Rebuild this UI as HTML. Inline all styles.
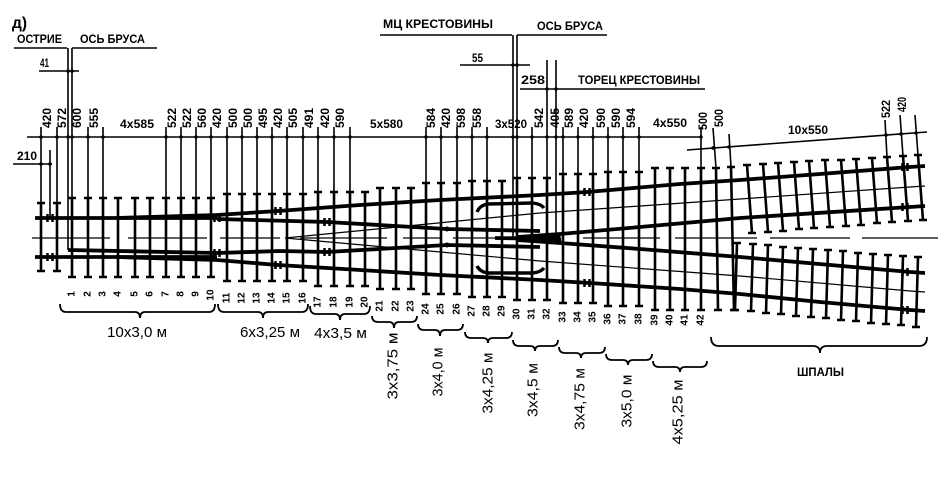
<!DOCTYPE html>
<html><head><meta charset="utf-8"><style>
html,body{margin:0;padding:0;background:#fff;}
svg{display:block;}
text{font-family:"Liberation Sans","DejaVu Sans",sans-serif;fill:#000;}
.b{font-weight:bold;}
.d{font-weight:bold;font-size:11.5px;}
.n{font-weight:bold;font-size:10px;}
.r{font-size:15px;}
</style></head><body>
<svg width="951" height="491" viewBox="0 0 951 491" xmlns="http://www.w3.org/2000/svg">
<rect width="951" height="491" fill="#fff"/>

<!-- top annotations -->
<text x="12" y="28" class="b" font-size="16" textLength="15" lengthAdjust="spacingAndGlyphs">д)</text>
<text x="17" y="43" class="d" textLength="45" lengthAdjust="spacingAndGlyphs">ОСТРИЕ</text>
<text x="80" y="43" class="d" textLength="65" lengthAdjust="spacingAndGlyphs">ОСЬ БРУСА</text>
<text x="40" y="67" class="d" textLength="9" lengthAdjust="spacingAndGlyphs">41</text>
<text x="17" y="160" class="d" textLength="20" lengthAdjust="spacingAndGlyphs">210</text>
<text x="383" y="28" class="d" textLength="110" lengthAdjust="spacingAndGlyphs">МЦ КРЕСТОВИНЫ</text>
<text x="537" y="30" class="d" textLength="66" lengthAdjust="spacingAndGlyphs">ОСЬ  БРУСА</text>
<text x="472" y="62" class="d" textLength="11" lengthAdjust="spacingAndGlyphs">55</text>
<text x="521" y="84" class="d" textLength="24" lengthAdjust="spacingAndGlyphs">258</text>
<text x="578" y="84" class="d" textLength="122" lengthAdjust="spacingAndGlyphs">ТОРЕЦ  КРЕСТОВИНЫ</text>

<g stroke="#000" stroke-width="1.6" fill="none">
<path d="M14 48H67M72 48H157M39 71H79M380 35H512M517 35H607M460 65H530M520 89H705M13 164H52M50 150V218"/>
<path d="M27 137H700M687 150L927 132"/>
<!-- extension lines -->
<path d="M41 127V203M57 127V203M88 127V198M103 127V198M166 127V198M181 127V198M196 127V198M211 127V198M227 127V194M242 127V194M257 127V194M272 127V194M287 127V194M303 127V194M318 127V192M334 127V192M350 127V192M426 127V183M441 127V183M457 127V183M472 127V181M487 127V181M532 127V178M563 127V174M578 127V174M593 127V174M608 127V172M623 127V172M639 127V172M701 127V168"/>
<path d="M68 48V250M72 48V198M513 35V237M517 35V178M547 60V178M556 60V240"/>
<path d="M713 128L716 168M729 134L731 167M885 120L887 157M900 115L903 156M915 115L918 155"/>
</g>

<!-- dimension dots -->
<g fill="#000">
<circle cx="41" cy="137" r="1.8"/><circle cx="57" cy="137" r="1.8"/><circle cx="68" cy="137" r="1.8"/><circle cx="72" cy="137" r="1.8"/><circle cx="88" cy="137" r="1.8"/><circle cx="103" cy="137" r="1.8"/><circle cx="166" cy="137" r="1.8"/><circle cx="181" cy="137" r="1.8"/><circle cx="196" cy="137" r="1.8"/><circle cx="211" cy="137" r="1.8"/><circle cx="227" cy="137" r="1.8"/><circle cx="242" cy="137" r="1.8"/><circle cx="257" cy="137" r="1.8"/><circle cx="272" cy="137" r="1.8"/><circle cx="287" cy="137" r="1.8"/><circle cx="303" cy="137" r="1.8"/><circle cx="318" cy="137" r="1.8"/><circle cx="334" cy="137" r="1.8"/><circle cx="350" cy="137" r="1.8"/><circle cx="426" cy="137" r="1.8"/><circle cx="441" cy="137" r="1.8"/><circle cx="457" cy="137" r="1.8"/><circle cx="472" cy="137" r="1.8"/><circle cx="487" cy="137" r="1.8"/><circle cx="513" cy="137" r="1.8"/><circle cx="517" cy="137" r="1.8"/><circle cx="532" cy="137" r="1.8"/><circle cx="547" cy="137" r="1.8"/><circle cx="556" cy="137" r="1.8"/><circle cx="563" cy="137" r="1.8"/><circle cx="578" cy="137" r="1.8"/><circle cx="593" cy="137" r="1.8"/><circle cx="608" cy="137" r="1.8"/><circle cx="623" cy="137" r="1.8"/><circle cx="639" cy="137" r="1.8"/><circle cx="701" cy="137" r="1.8"/>
<circle cx="713" cy="148" r="1.8"/><circle cx="729" cy="147" r="1.8"/><circle cx="886" cy="135" r="1.8"/><circle cx="901" cy="134" r="1.8"/><circle cx="916" cy="133" r="1.8"/>
<circle cx="68" cy="71" r="1.8"/><circle cx="72" cy="71" r="1.8"/><circle cx="513" cy="65" r="1.8"/><circle cx="517" cy="65" r="1.8"/><circle cx="547" cy="89" r="1.8"/><circle cx="556" cy="89" r="1.8"/><circle cx="41" cy="164" r="1.8"/><circle cx="50" cy="164" r="1.8"/>
</g>

<!-- horizontal dimension labels -->
<text x="120" y="128" class="d" textLength="34" lengthAdjust="spacingAndGlyphs">4x585</text>
<text x="370" y="128" class="d" textLength="33" lengthAdjust="spacingAndGlyphs">5x580</text>
<text x="495" y="128" class="d" textLength="32" lengthAdjust="spacingAndGlyphs">3x520</text>
<text x="653" y="127" class="d" textLength="34" lengthAdjust="spacingAndGlyphs">4x550</text>
<text x="788" y="134" class="d" textLength="40" lengthAdjust="spacingAndGlyphs">10x550</text>

<!-- rotated dimension labels -->
<g class="d" dominant-baseline="central">
<text transform="translate(48,128) rotate(-90)" textLength="20" lengthAdjust="spacingAndGlyphs">420</text>
<text transform="translate(63,128) rotate(-90)" textLength="20" lengthAdjust="spacingAndGlyphs">572</text>
<text transform="translate(78,128) rotate(-90)" textLength="20" lengthAdjust="spacingAndGlyphs">600</text>
<text transform="translate(95,128) rotate(-90)" textLength="20" lengthAdjust="spacingAndGlyphs">555</text>
<text transform="translate(173,128) rotate(-90)" textLength="20" lengthAdjust="spacingAndGlyphs">522</text>
<text transform="translate(188,128) rotate(-90)" textLength="20" lengthAdjust="spacingAndGlyphs">522</text>
<text transform="translate(203,128) rotate(-90)" textLength="20" lengthAdjust="spacingAndGlyphs">560</text>
<text transform="translate(218,128) rotate(-90)" textLength="20" lengthAdjust="spacingAndGlyphs">420</text>
<text transform="translate(234,128) rotate(-90)" textLength="20" lengthAdjust="spacingAndGlyphs">500</text>
<text transform="translate(249,128) rotate(-90)" textLength="20" lengthAdjust="spacingAndGlyphs">500</text>
<text transform="translate(264,128) rotate(-90)" textLength="20" lengthAdjust="spacingAndGlyphs">495</text>
<text transform="translate(279,128) rotate(-90)" textLength="20" lengthAdjust="spacingAndGlyphs">420</text>
<text transform="translate(294,128) rotate(-90)" textLength="20" lengthAdjust="spacingAndGlyphs">505</text>
<text transform="translate(310,128) rotate(-90)" textLength="20" lengthAdjust="spacingAndGlyphs">491</text>
<text transform="translate(326,128) rotate(-90)" textLength="20" lengthAdjust="spacingAndGlyphs">420</text>
<text transform="translate(341,128) rotate(-90)" textLength="20" lengthAdjust="spacingAndGlyphs">590</text>
<text transform="translate(432,128) rotate(-90)" textLength="20" lengthAdjust="spacingAndGlyphs">584</text>
<text transform="translate(447,128) rotate(-90)" textLength="20" lengthAdjust="spacingAndGlyphs">420</text>
<text transform="translate(462,128) rotate(-90)" textLength="20" lengthAdjust="spacingAndGlyphs">598</text>
<text transform="translate(478,128) rotate(-90)" textLength="20" lengthAdjust="spacingAndGlyphs">558</text>
<text transform="translate(540,128) rotate(-90)" textLength="20" lengthAdjust="spacingAndGlyphs">542</text>
<text transform="translate(556,128) rotate(-90)" textLength="20" lengthAdjust="spacingAndGlyphs">405</text>
<text transform="translate(570,128) rotate(-90)" textLength="20" lengthAdjust="spacingAndGlyphs">589</text>
<text transform="translate(585,128) rotate(-90)" textLength="20" lengthAdjust="spacingAndGlyphs">420</text>
<text transform="translate(602,128) rotate(-90)" textLength="20" lengthAdjust="spacingAndGlyphs">590</text>
<text transform="translate(617,128) rotate(-90)" textLength="20" lengthAdjust="spacingAndGlyphs">590</text>
<text transform="translate(632,128) rotate(-90)" textLength="20" lengthAdjust="spacingAndGlyphs">594</text>
<text transform="translate(704,130) rotate(-90)" textLength="18" lengthAdjust="spacingAndGlyphs">500</text>
<text transform="translate(720,127) rotate(-90)" textLength="18" lengthAdjust="spacingAndGlyphs">500</text>
<text transform="translate(887,118) rotate(-90)" textLength="18" lengthAdjust="spacingAndGlyphs">522</text>
<text transform="translate(903,112) rotate(-90)" textLength="15" lengthAdjust="spacingAndGlyphs">420</text>
</g>

<!-- sleepers -->
<g stroke="#000" stroke-width="2.6" fill="none">
<path d="M41 203V271M57 203V271M72 198V277M88 198V277M103 198V277M118 198V277M135 198V277M150 198V277M166 198V277M181 198V277M196 198V277M211 198V277M227 194V281M242 194V281M257 194V281M272 194V281M287 194V281M303 194V281M318 192V286M334 192V286M350 192V286M365 192V286M380 188V289M396 188V289M411 188V289M426 183V294M441 183V294M457 183V294M472 181V297M487 181V297M502 181V297M517 178V300M532 178V300M547 178V300M563 174V303M578 174V303M593 174V303M608 172V306M623 172V306M639 172V306M655 168V310M670 168V310M685 168V310M701 168V310M716 168L718 310M731 167L734 310"/>
<path d="M37 203h8M37 271h8M53 203h8M53 271h8M68 198h8M68 277h8M84 198h8M84 277h8M99 198h8M99 277h8M114 198h8M114 277h8M131 198h8M131 277h8M146 198h8M146 277h8M162 198h8M162 277h8M177 198h8M177 277h8M192 198h8M192 277h8M207 198h8M207 277h8M223 194h8M223 281h8M238 194h8M238 281h8M253 194h8M253 281h8M268 194h8M268 281h8M283 194h8M283 281h8M299 194h8M299 281h8M314 192h8M314 286h8M330 192h8M330 286h8M346 192h8M346 286h8M361 192h8M361 286h8M376 188h8M376 289h8M392 188h8M392 289h8M407 188h8M407 289h8M422 183h8M422 294h8M437 183h8M437 294h8M453 183h8M453 294h8M468 181h8M468 297h8M483 181h8M483 297h8M498 181h8M498 297h8M513 178h8M513 300h8M528 178h8M528 300h8M543 178h8M543 300h8M559 174h8M559 303h8M574 174h8M574 303h8M589 174h8M589 303h8M604 172h8M604 306h8M619 172h8M619 306h8M635 172h8M635 306h8M651 168h8M651 310h8M666 168h8M666 310h8M681 168h8M681 310h8M697 168h8M697 310h8M712 168h8M714 310h8M727 167h8M730 310h8"/>
<!-- upper branch sleepers -->
<path d="M747 165L752 233M763 164L768 232M778 163L783 231M794 162L799 229M809 161L814 228M825 160L830 227M841 160L846 226M856 159L861 225M872 158L877 223M887 157L892 222M903 156L908 221M918 155L923 220"/>
<path d="M743 165h8M748 233h8M759 164h8M764 232h8M774 163h8M779 231h8M790 162h8M795 229h8M805 161h8M810 228h8M821 160h8M826 227h8M837 160h8M842 226h8M852 159h8M857 225h8M868 158h8M873 223h8M883 157h8M888 222h8M899 156h8M904 221h8M914 155h8M919 220h8"/>
<!-- lower branch sleepers -->
<path d="M737 243L735 310M753 244L751 311M768 245L766 313M783 247L781 314M798 248L796 316M813 249L811 317M828 250L826 318M843 251L841 320M858 253L856 321M873 254L871 323M888 255L886 324M903 256L901 325M918 257L916 327"/>
<path d="M733 243h8M731 310h8M749 244h8M747 311h8M764 245h8M762 313h8M779 247h8M777 314h8M794 248h8M792 316h8M809 249h8M807 317h8M824 250h8M822 318h8M839 251h8M837 320h8M854 253h8M852 321h8M869 254h8M867 323h8M884 255h8M882 324h8M899 256h8M897 325h8M914 257h8M912 327h8"/>
</g>

<!-- thin centre lines -->
<g stroke="#000" stroke-width="1.2" fill="none">
<path d="M32 238H110M128 238H207M220 238H280M300 238H387M403 238H440M453 238H507M583 238H660M675 238H757M770 238H850M862 238H938"/>
<path d="M285 238L540 213L740 199L910 187L925 186M285 238L540 261L740 276L910 291L925 292"/>
</g>

<!-- rails -->
<g stroke="#000" stroke-width="3.8" fill="none" stroke-linejoin="round">
<path d="M35 218H217"/>
<path d="M117 218L217 215L278 211L360 205L440 200L540 195L587 192L680 184L740 180L820 174L910 167L925 166"/>
<path d="M217 219L327 222L447 229L540 231"/>
<path d="M35 257H217"/>
<path d="M117 257L217 260L278 265L360 270L440 275L540 280L590 283L680 289L740 294L820 302L910 310L925 311"/>
<path d="M68 250L217 253L280 251L327 252L447 245L540 247"/>
<path d="M517 237L560 234L640 227L740 218L910 207L925 206"/>
<path d="M517 240L560 243L640 249L740 257L910 272L925 273"/>
<path d="M495 238L560 239"/>
</g>
<g stroke="#000" stroke-width="3.4" fill="none">
<path d="M477 212Q480 205 488 204L533 203Q541 204 544 208M477 266Q480 272 488 273L533 273Q541 272 544 268"/>
</g>
<polygon points="510,238 560,233 562,245" fill="#000"/>

<!-- rail joints -->
<g stroke="#000" stroke-width="2.5" fill="none">
<path d="M47.5 214v8M52.5 214v8M47.5 253v8M52.5 253v8M214.5 214v8M219.5 214v8M214.5 249v8M219.5 249v8M275.5 207v8M280.5 207v8M275.5 261v8M280.5 261v8M324.5 218v8M329.5 218v8M324.5 248v8M329.5 248v8M584.5 188v8M589.5 188v8M584.5 279v8M589.5 279v8M902.5 163v8M907.5 163v8M902.5 203v8M907.5 203v8M902.5 268v8M907.5 268v8M902.5 306v8M907.5 306v8"/>
</g>
<g fill="#000"><circle cx="447" cy="229" r="2.5"/><circle cx="447" cy="245" r="2.5"/><circle cx="555" cy="240" r="2.7"/></g>

<!-- sleeper numbers -->
<g class="n" text-anchor="middle" dominant-baseline="central">
<text transform="translate(72,294) rotate(-90)">1</text>
<text transform="translate(88,294) rotate(-90)">2</text>
<text transform="translate(103,294) rotate(-90)">3</text>
<text transform="translate(118,294) rotate(-90)">4</text>
<text transform="translate(135,294) rotate(-90)">5</text>
<text transform="translate(150,294) rotate(-90)">6</text>
<text transform="translate(166,294) rotate(-90)">7</text>
<text transform="translate(181,294) rotate(-90)">8</text>
<text transform="translate(196,294) rotate(-90)">9</text>
<text transform="translate(211,295) rotate(-90)">10</text>
<text transform="translate(227,298) rotate(-90)">11</text>
<text transform="translate(242,298) rotate(-90)">12</text>
<text transform="translate(257,298) rotate(-90)">13</text>
<text transform="translate(272,298) rotate(-90)">14</text>
<text transform="translate(287,298) rotate(-90)">15</text>
<text transform="translate(303,298) rotate(-90)">16</text>
<text transform="translate(318,302) rotate(-90)">17</text>
<text transform="translate(334,302) rotate(-90)">18</text>
<text transform="translate(350,302) rotate(-90)">19</text>
<text transform="translate(365,302) rotate(-90)">20</text>
<text transform="translate(380,306) rotate(-90)">21</text>
<text transform="translate(396,306) rotate(-90)">22</text>
<text transform="translate(411,306) rotate(-90)">23</text>
<text transform="translate(426,309) rotate(-90)">24</text>
<text transform="translate(441,309) rotate(-90)">25</text>
<text transform="translate(457,309) rotate(-90)">26</text>
<text transform="translate(472,311) rotate(-90)">27</text>
<text transform="translate(487,311) rotate(-90)">28</text>
<text transform="translate(502,311) rotate(-90)">29</text>
<text transform="translate(517,314) rotate(-90)">30</text>
<text transform="translate(532,314) rotate(-90)">31</text>
<text transform="translate(547,314) rotate(-90)">32</text>
<text transform="translate(563,317) rotate(-90)">33</text>
<text transform="translate(578,317) rotate(-90)">34</text>
<text transform="translate(593,317) rotate(-90)">35</text>
<text transform="translate(608,319) rotate(-90)">36</text>
<text transform="translate(623,319) rotate(-90)">37</text>
<text transform="translate(639,319) rotate(-90)">38</text>
<text transform="translate(655,320) rotate(-90)">39</text>
<text transform="translate(670,320) rotate(-90)">40</text>
<text transform="translate(685,320) rotate(-90)">41</text>
<text transform="translate(701,320) rotate(-90)">42</text>
</g>

<!-- braces -->
<g stroke="#000" stroke-width="1.8" fill="none">
<path d="M60 304Q60 312 66 312L135 312Q140 312 140 318Q140 312 145 312L209 312Q215 312 215 304"/>
<path d="M218 304Q218 312 224 312L258 312Q263 312 263 318Q263 312 268 312L302 312Q308 312 308 304"/>
<path d="M310 306Q310 314 316 314L335 314Q340 314 340 320Q340 314 345 314L364 314Q370 314 370 306"/>
<path d="M372 316Q372 322 378 322L389 322Q394 322 394 328Q394 322 399 322L411 322Q417 322 417 316"/>
<path d="M418 324Q418 330 424 330L435 330Q440 330 440 336Q440 330 445 330L457 330Q463 330 463 324"/>
<path d="M465 332Q465 338 471 338L483 338Q488 338 488 343Q488 338 493 338L506 338Q512 338 512 332"/>
<path d="M513 340Q513 346 519 346L530 346Q535 346 535 351Q535 346 540 346L552 346Q558 346 558 340"/>
<path d="M559 347Q559 353 565 353L576 353Q581 353 581 358Q581 353 586 353L599 353Q605 353 605 347"/>
<path d="M606 354Q606 360 612 360L623 360Q628 360 628 365Q628 360 633 360L646 360Q652 360 652 354"/>
<path d="M653 361Q653 367 659 367L675 367Q680 367 680 372Q680 367 685 367L701 367Q707 367 707 361"/>
<path d="M711 337Q711 346 719 346L813 346Q820 346 820 353Q820 346 827 346L919 346Q927 346 927 337"/>
</g>

<!-- brace labels -->
<text x="107" y="337" class="r" textLength="60" lengthAdjust="spacingAndGlyphs">10x3,0 м</text>
<text x="240" y="337" class="r" textLength="60" lengthAdjust="spacingAndGlyphs">6x3,25 м</text>
<text x="314" y="338" class="r" textLength="53" lengthAdjust="spacingAndGlyphs">4x3,5 м</text>
<g class="r" text-anchor="middle" dominant-baseline="central">
<text transform="translate(393,366) rotate(-90)" textLength="67" lengthAdjust="spacingAndGlyphs">3x3,75 м</text>
<text transform="translate(438,372) rotate(-90)" textLength="49" lengthAdjust="spacingAndGlyphs">3x4,0 м</text>
<text transform="translate(488,383) rotate(-90)" textLength="61" lengthAdjust="spacingAndGlyphs">3x4,25 м</text>
<text transform="translate(533,390) rotate(-90)" textLength="54" lengthAdjust="spacingAndGlyphs">3x4,5 м</text>
<text transform="translate(580,399) rotate(-90)" textLength="62" lengthAdjust="spacingAndGlyphs">3x4,75 м</text>
<text transform="translate(627,401) rotate(-90)" textLength="53" lengthAdjust="spacingAndGlyphs">3x5,0 м</text>
<text transform="translate(678,412) rotate(-90)" textLength="65" lengthAdjust="spacingAndGlyphs">4x5,25 м</text>
</g>
<text x="797" y="376" class="d" textLength="47" lengthAdjust="spacingAndGlyphs">ШПАЛЫ</text>
</svg>
</body></html>
